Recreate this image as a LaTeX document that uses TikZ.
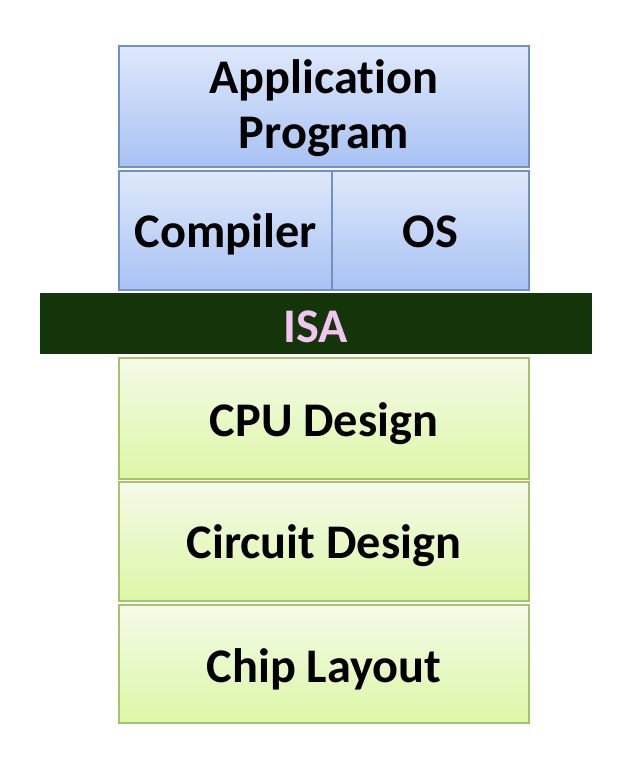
\documentclass[tikz,border=0pt]{standalone}
\usepackage{fontspec}
\setmainfont{Carlito}[Ligatures=NoCommon]
\definecolor{swtop}{RGB}{222,232,251}
\definecolor{swbot}{RGB}{168,194,243}
\definecolor{swedge}{RGB}{114,144,200}
\definecolor{hwtop}{RGB}{244,250,232}
\definecolor{hwbot}{RGB}{220,247,166}
\definecolor{hwedge}{RGB}{166,196,110}
\definecolor{isagreen}{RGB}{20,53,10}
\definecolor{isapink}{RGB}{242,196,240}
\usetikzlibrary{positioning}

\begin{document}
\begin{tikzpicture}[x=0.02cm,y=-0.02cm,
  layer/.style={line width=0.8pt,inner sep=0pt,align=center,text height=0.68cm,text depth=0pt,
    font=\fontsize{27.5}{31.3}\selectfont\bfseries},
  swlayer/.style={layer,draw=swedge,top color=swtop,bottom color=swbot},
  hwlayer/.style={layer,draw=hwedge,top color=hwtop,bottom color=hwbot,minimum width=8.2cm}]
  \useasboundingbox (0,0) rectangle (642,762);
  % software side
  \node[swlayer,text height=1.66cm,minimum width=8.2cm,minimum height=2.42cm] (app) at (324,106.5) {Application\\Program};
  \node[swlayer,minimum width=4.26cm,minimum height=2.38cm] (compiler) at (225.5,230.5) {Compiler};
  \node[swlayer,minimum width=3.94cm,minimum height=2.38cm] (os) at (430.5,230.5) {OS};
  % the interface
  \node[layer,text height=0.76cm,fill=isagreen,text=isapink,minimum width=11.04cm,minimum height=1.22cm] (isa) at (316,323.5) {ISA};
  % hardware side
  \node[hwlayer,text height=0.72cm,minimum height=2.42cm] (cpu) at (324,418.5) {CPU Design};
  \node[hwlayer,minimum height=2.38cm] (circuit) at (324,541.5) {Circuit Design};
  \node[hwlayer,text height=0.72cm,minimum height=2.36cm] (chip) at (324,664) {Chip Layout};
\end{tikzpicture}
\end{document}
